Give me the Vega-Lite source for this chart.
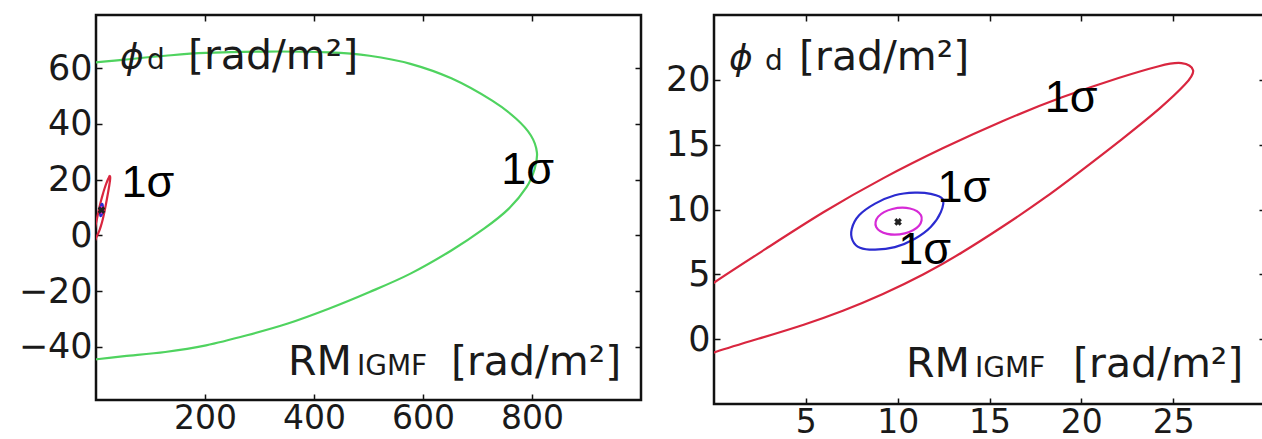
{
  "$schema": "https://vega.github.io/schema/vega-lite/v6.json",
  "background": "white",
  "padding": {"left": 5, "top": 8, "right": 0, "bottom": 0},
  "spacing": 9,
  "align": "none",
  "config": {
    "view": {"stroke": "#111111", "strokeWidth": 2.5},
    "axis": {"domain": false, "grid": false, "ticks": true, "tickSize": -6, "tickWidth": 1.5, "tickColor": "#111111", "labelFont": "DejaVu Sans", "labelFontSize": 35, "labelColor": "#1a1a1a", "labelPadding": 10, "title": null},
    "axisBottom": {"labelFontSize": 33, "labelPadding": 8},
    "text": {"font": "DejaVu Sans", "color": "#1a1a1a"}
  },
  "datasets": {
    "green": [
      {"o": 0, "x": -80, "y": 61.0}, {"o": 1, "x": 3.7, "y": 62.1}, {"o": 2, "x": 52, "y": 63.0}, {"o": 3, "x": 127, "y": 64.4}, {"o": 4, "x": 202, "y": 65.4}, {"o": 5, "x": 315, "y": 65.9}, {"o": 6, "x": 427, "y": 65.6}, {"o": 7, "x": 502, "y": 64.4}, {"o": 8, "x": 577, "y": 61.5}, {"o": 9, "x": 652, "y": 56.3}, {"o": 10, "x": 727, "y": 48.3}, {"o": 11, "x": 771, "y": 41.8}, {"o": 12, "x": 798, "y": 35.8}, {"o": 13, "x": 809, "y": 29.8}, {"o": 14, "x": 805, "y": 23.9}, {"o": 15, "x": 790, "y": 17.3}, {"o": 16, "x": 757, "y": 9.5}, {"o": 17, "x": 712, "y": 2.4}, {"o": 18, "x": 652, "y": -5.4}, {"o": 19, "x": 577, "y": -13.7}, {"o": 20, "x": 502, "y": -20.3}, {"o": 21, "x": 427, "y": -26.3}, {"o": 22, "x": 352, "y": -31.6}, {"o": 23, "x": 277, "y": -35.8}, {"o": 24, "x": 202, "y": -39.4}, {"o": 25, "x": 127, "y": -41.8}, {"o": 26, "x": 52, "y": -43.3}, {"o": 27, "x": 1.5, "y": -44.4}, {"o": 28, "x": -80, "y": -46.0}
    ],
    "red": [
      {"o": 0, "x": 26.3, "y": 20.8}, {"o": 1, "x": 25.5, "y": 21.45}, {"o": 2, "x": 24.4, "y": 21.15}, {"o": 3, "x": 22.2, "y": 20.25}, {"o": 4, "x": 18.95, "y": 18.7}, {"o": 5, "x": 15.7, "y": 16.85}, {"o": 6, "x": 12.45, "y": 14.75}, {"o": 7, "x": 9.2, "y": 12.45}, {"o": 8, "x": 5.96, "y": 9.85}, {"o": 9, "x": 2.7, "y": 6.85}, {"o": 10, "x": 0, "y": 4.4}, {"o": 11, "x": -2.5, "y": 1.9}, {"o": 12, "x": -4.5, "y": -0.4}, {"o": 13, "x": -5.8, "y": -1.9}, {"o": 14, "x": -6.2, "y": -2.6}, {"o": 15, "x": -5.4, "y": -3.1}, {"o": 16, "x": -4.0, "y": -2.8}, {"o": 17, "x": -2.0, "y": -2.0}, {"o": 18, "x": 0, "y": -1.0}, {"o": 19, "x": 2.7, "y": 0.15}, {"o": 20, "x": 4.9, "y": 1.1}, {"o": 21, "x": 7.0, "y": 2.15}, {"o": 22, "x": 9.2, "y": 3.45}, {"o": 23, "x": 11.4, "y": 4.95}, {"o": 24, "x": 13.5, "y": 6.65}, {"o": 25, "x": 15.7, "y": 8.65}, {"o": 26, "x": 17.9, "y": 10.75}, {"o": 27, "x": 20.0, "y": 13.0}, {"o": 28, "x": 22.2, "y": 15.4}, {"o": 29, "x": 24.4, "y": 17.9}, {"o": 30, "x": 25.8, "y": 19.8}
    ],
    "blue": [
      {"o": 0, "x": 12.45, "y": 10.8}, {"o": 1, "x": 11.8, "y": 11.2}, {"o": 2, "x": 10.94, "y": 11.3}, {"o": 3, "x": 9.85, "y": 11.1}, {"o": 4, "x": 8.77, "y": 10.45}, {"o": 5, "x": 7.9, "y": 9.55}, {"o": 6, "x": 7.5, "y": 8.5}, {"o": 7, "x": 7.55, "y": 7.6}, {"o": 8, "x": 7.95, "y": 7.05}, {"o": 9, "x": 8.77, "y": 6.9}, {"o": 10, "x": 9.85, "y": 7.1}, {"o": 11, "x": 10.94, "y": 7.75}, {"o": 12, "x": 11.8, "y": 8.65}, {"o": 13, "x": 12.35, "y": 9.8}
    ],
    "magenta": [
      {"o": 0, "x": 11.27, "y": 9.55}, {"o": 1, "x": 10.67, "y": 10.08}, {"o": 2, "x": 9.71, "y": 10.04}, {"o": 3, "x": 8.94, "y": 9.45}, {"o": 4, "x": 8.83, "y": 8.65}, {"o": 5, "x": 9.43, "y": 8.12}, {"o": 6, "x": 10.39, "y": 8.16}, {"o": 7, "x": 11.16, "y": 8.75}
    ],
    "center": [{"x": 10.02, "y": 9.04}],
    "big": [
      {"p": "L", "x": 168.8, "y": 59.6, "t": "[rad/m²]"}, {"p": "L", "x": 352.3, "y": -50.0, "t": "RM"}, {"p": "L", "x": 651.4, "y": -50.0, "t": "[rad/m²]"},
      {"p": "R", "x": 4.63, "y": 20.76, "t": "[rad/m²]"}, {"p": "R", "x": 10.45, "y": -2.92, "t": "RM"}, {"p": "R", "x": 19.55, "y": -2.92, "t": "[rad/m²]"}
    ],
    "small": [
      {"p": "L", "x": 93.6, "y": 59.6, "t": "d"}, {"p": "L", "x": 478.9, "y": -50.0, "t": "IGMF"},
      {"p": "R", "x": 2.78, "y": 20.76, "t": "d"}, {"p": "R", "x": 14.21, "y": -2.92, "t": "IGMF"}
    ],
    "phi": [
      {"p": "L", "x": 44, "y": 59.6, "t": "ϕ"}, {"p": "R", "x": 0.82, "y": 20.76, "t": "ϕ"}
    ],
    "sigma": [
      {"p": "L", "x": 95.4, "y": 13.8, "t": "1σ"}, {"p": "L", "x": 792, "y": 18.4, "t": "1σ"},
      {"p": "R", "x": 19.44, "y": 17.52, "t": "1σ"}, {"p": "R", "x": 13.61, "y": 10.58, "t": "1σ"}, {"p": "R", "x": 11.47, "y": 5.8, "t": "1σ"}
    ]
  },
  "hconcat": [
    {
      "width": 545,
      "height": 385,
      "resolve": {"axis": {"x": "independent", "y": "independent"}},
      "layer": [
        {
          "data": {"name": "green"},
          "mark": {"type": "line", "color": "#4fd35f", "strokeWidth": 2.2, "interpolate": "cardinal", "clip": true},
          "encoding": {
            "x": {"field": "x", "type": "quantitative", "scale": {"domain": [0, 1000], "nice": false, "zero": false}, "axis": {"orient": "bottom", "values": [200, 400, 600, 800]}},
            "y": {"field": "y", "type": "quantitative", "scale": {"domain": [-59, 79], "nice": false, "zero": false}, "axis": {"orient": "left", "values": [-40, -20, 0, 20, 40, 60], "minExtent": 89, "maxExtent": 89}},
            "order": {"field": "o"}
          }
        },
        {
          "data": {"name": "red"},
          "mark": {"type": "line", "color": "#d9263f", "strokeWidth": 2.2, "interpolate": "basis-closed", "clip": true},
          "encoding": {
            "x": {"field": "x", "type": "quantitative", "scale": {"domain": [0, 1000], "nice": false, "zero": false}, "axis": {"orient": "top", "values": [200, 400, 600, 800], "labels": false, "minExtent": 5, "maxExtent": 5}},
            "y": {"field": "y", "type": "quantitative", "scale": {"domain": [-59, 79], "nice": false, "zero": false}, "axis": {"orient": "right", "values": [-40, -20, 0, 20, 40, 60], "labels": false, "minExtent": 0, "maxExtent": 0}},
            "order": {"field": "o"}
          }
        },
        {
          "data": {"name": "blue"},
          "mark": {"type": "line", "color": "#2b2bd0", "strokeWidth": 2.2, "interpolate": "cardinal-closed", "clip": true},
          "encoding": {
            "x": {"field": "x", "type": "quantitative", "scale": {"domain": [0, 1000], "nice": false, "zero": false}, "axis": null},
            "y": {"field": "y", "type": "quantitative", "scale": {"domain": [-59, 79], "nice": false, "zero": false}, "axis": null},
            "order": {"field": "o"}
          }
        },
        {
          "data": {"name": "magenta"},
          "mark": {"type": "line", "color": "#d62ad6", "strokeWidth": 2.2, "interpolate": "cardinal-closed", "clip": true},
          "encoding": {
            "x": {"field": "x", "type": "quantitative", "scale": {"domain": [0, 1000], "nice": false, "zero": false}, "axis": null},
            "y": {"field": "y", "type": "quantitative", "scale": {"domain": [-59, 79], "nice": false, "zero": false}, "axis": null},
            "order": {"field": "o"}
          }
        },
        {
          "data": {"name": "center"},
          "mark": {"type": "point", "shape": "cross", "angle": 45, "filled": true, "color": "#222222", "size": 60, "opacity": 1},
          "encoding": {
            "x": {"field": "x", "type": "quantitative", "scale": {"domain": [0, 1000], "nice": false, "zero": false}, "axis": null},
            "y": {"field": "y", "type": "quantitative", "scale": {"domain": [-59, 79], "nice": false, "zero": false}, "axis": null}
          }
        },
        {
          "data": {"name": "big"},
          "transform": [{"filter": "datum.p == 'L'"}],
          "mark": {"type": "text", "fontSize": 41, "align": "left", "baseline": "alphabetic"},
          "encoding": {
            "x": {"field": "x", "type": "quantitative", "scale": {"domain": [0, 1000], "nice": false, "zero": false}, "axis": null},
            "y": {"field": "y", "type": "quantitative", "scale": {"domain": [-59, 79], "nice": false, "zero": false}, "axis": null},
            "text": {"field": "t"}
          }
        },
        {
          "data": {"name": "small"},
          "transform": [{"filter": "datum.p == 'L'"}],
          "mark": {"type": "text", "fontSize": 28, "align": "left", "baseline": "alphabetic"},
          "encoding": {
            "x": {"field": "x", "type": "quantitative", "scale": {"domain": [0, 1000], "nice": false, "zero": false}, "axis": null},
            "y": {"field": "y", "type": "quantitative", "scale": {"domain": [-59, 79], "nice": false, "zero": false}, "axis": null},
            "text": {"field": "t"}
          }
        },
        {
          "data": {"name": "phi"},
          "transform": [{"filter": "datum.p == 'L'"}],
          "mark": {"type": "text", "fontSize": 36, "fontStyle": "italic", "align": "left", "baseline": "alphabetic"},
          "encoding": {
            "x": {"field": "x", "type": "quantitative", "scale": {"domain": [0, 1000], "nice": false, "zero": false}, "axis": null},
            "y": {"field": "y", "type": "quantitative", "scale": {"domain": [-59, 79], "nice": false, "zero": false}, "axis": null},
            "text": {"field": "t"}
          }
        },
        {
          "data": {"name": "sigma"},
          "transform": [{"filter": "datum.p == 'L'"}],
          "mark": {"type": "text", "font": "Liberation Sans", "fontSize": 45, "color": "#000000", "align": "center", "baseline": "alphabetic"},
          "encoding": {
            "x": {"field": "x", "type": "quantitative", "scale": {"domain": [0, 1000], "nice": false, "zero": false}, "axis": null},
            "y": {"field": "y", "type": "quantitative", "scale": {"domain": [-59, 79], "nice": false, "zero": false}, "axis": null},
            "text": {"field": "t"}
          }
        }
      ]
    },
    {
      "width": 551,
      "height": 389,
      "resolve": {"axis": {"x": "independent", "y": "independent"}},
      "layer": [
        {
          "data": {"name": "red"},
          "mark": {"type": "line", "color": "#d9263f", "strokeWidth": 2.2, "interpolate": "basis-closed", "clip": true},
          "encoding": {
            "x": {"field": "x", "type": "quantitative", "scale": {"domain": [0, 30], "nice": false, "zero": false}, "axis": {"orient": "bottom", "values": [5, 10, 15, 20, 25]}},
            "y": {"field": "y", "type": "quantitative", "scale": {"domain": [-5, 25], "nice": false, "zero": false}, "axis": {"orient": "left", "values": [0, 5, 10, 15, 20], "minExtent": 60, "maxExtent": 60}},
            "order": {"field": "o"}
          }
        },
        {
          "data": {"name": "blue"},
          "mark": {"type": "line", "color": "#2b2bd0", "strokeWidth": 2.2, "interpolate": "cardinal-closed", "clip": true},
          "encoding": {
            "x": {"field": "x", "type": "quantitative", "scale": {"domain": [0, 30], "nice": false, "zero": false}, "axis": {"orient": "top", "values": [5, 10, 15, 20, 25], "labels": false, "minExtent": 0, "maxExtent": 0}},
            "y": {"field": "y", "type": "quantitative", "scale": {"domain": [-5, 25], "nice": false, "zero": false}, "axis": {"orient": "right", "values": [0, 5, 10, 15, 20], "labels": false, "minExtent": 0, "maxExtent": 0}},
            "order": {"field": "o"}
          }
        },
        {
          "data": {"name": "magenta"},
          "mark": {"type": "line", "color": "#d62ad6", "strokeWidth": 2.2, "interpolate": "cardinal-closed", "clip": true},
          "encoding": {
            "x": {"field": "x", "type": "quantitative", "scale": {"domain": [0, 30], "nice": false, "zero": false}, "axis": null},
            "y": {"field": "y", "type": "quantitative", "scale": {"domain": [-5, 25], "nice": false, "zero": false}, "axis": null},
            "order": {"field": "o"}
          }
        },
        {
          "data": {"name": "center"},
          "mark": {"type": "point", "shape": "cross", "angle": 45, "filled": true, "color": "#222222", "size": 60, "opacity": 1},
          "encoding": {
            "x": {"field": "x", "type": "quantitative", "scale": {"domain": [0, 30], "nice": false, "zero": false}, "axis": null},
            "y": {"field": "y", "type": "quantitative", "scale": {"domain": [-5, 25], "nice": false, "zero": false}, "axis": null}
          }
        },
        {
          "data": {"name": "big"},
          "transform": [{"filter": "datum.p == 'R'"}],
          "mark": {"type": "text", "fontSize": 41, "align": "left", "baseline": "alphabetic"},
          "encoding": {
            "x": {"field": "x", "type": "quantitative", "scale": {"domain": [0, 30], "nice": false, "zero": false}, "axis": null},
            "y": {"field": "y", "type": "quantitative", "scale": {"domain": [-5, 25], "nice": false, "zero": false}, "axis": null},
            "text": {"field": "t"}
          }
        },
        {
          "data": {"name": "small"},
          "transform": [{"filter": "datum.p == 'R'"}],
          "mark": {"type": "text", "fontSize": 28, "align": "left", "baseline": "alphabetic"},
          "encoding": {
            "x": {"field": "x", "type": "quantitative", "scale": {"domain": [0, 30], "nice": false, "zero": false}, "axis": null},
            "y": {"field": "y", "type": "quantitative", "scale": {"domain": [-5, 25], "nice": false, "zero": false}, "axis": null},
            "text": {"field": "t"}
          }
        },
        {
          "data": {"name": "phi"},
          "transform": [{"filter": "datum.p == 'R'"}],
          "mark": {"type": "text", "fontSize": 36, "fontStyle": "italic", "align": "left", "baseline": "alphabetic"},
          "encoding": {
            "x": {"field": "x", "type": "quantitative", "scale": {"domain": [0, 30], "nice": false, "zero": false}, "axis": null},
            "y": {"field": "y", "type": "quantitative", "scale": {"domain": [-5, 25], "nice": false, "zero": false}, "axis": null},
            "text": {"field": "t"}
          }
        },
        {
          "data": {"name": "sigma"},
          "transform": [{"filter": "datum.p == 'R'"}],
          "mark": {"type": "text", "font": "Liberation Sans", "fontSize": 45, "color": "#000000", "align": "center", "baseline": "alphabetic"},
          "encoding": {
            "x": {"field": "x", "type": "quantitative", "scale": {"domain": [0, 30], "nice": false, "zero": false}, "axis": null},
            "y": {"field": "y", "type": "quantitative", "scale": {"domain": [-5, 25], "nice": false, "zero": false}, "axis": null},
            "text": {"field": "t"}
          }
        }
      ]
    }
  ]
}
